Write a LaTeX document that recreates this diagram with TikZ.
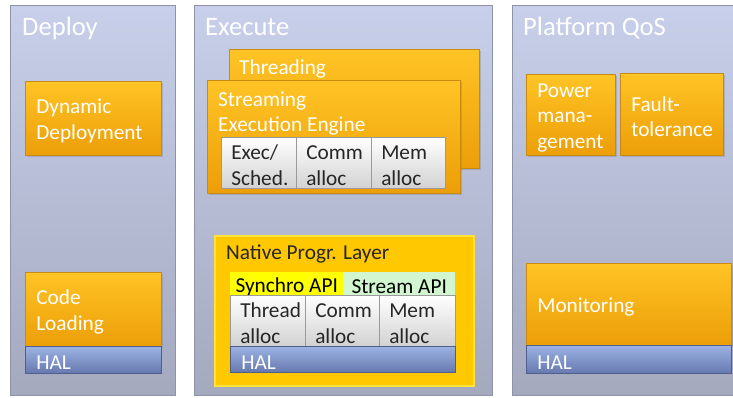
\documentclass[tikz,border=0pt]{standalone}
\usepackage{fontspec}
\setmainfont{Carlito}
\definecolor{panetop}{HTML}{C7CFEA}
\definecolor{panebot}{HTML}{A4A9BE}
\definecolor{paneedge}{HTML}{8E94A8}
\definecolor{ortop}{HTML}{FFC425}
\definecolor{orbot}{HTML}{EC9E08}
\definecolor{oredge}{HTML}{C98A14}
\definecolor{celltop}{HTML}{FFFFFF}
\definecolor{cellbot}{HTML}{D2D2D2}
\definecolor{celledge}{HTML}{9A9A9A}
\definecolor{haltop}{HTML}{9DB3E3}
\definecolor{halbot}{HTML}{6679B0}
\definecolor{haledge}{HTML}{4F5F8C}
\definecolor{nativefill}{HTML}{FFC800}
\definecolor{nativeedge}{HTML}{FFE23A}
\definecolor{synchro}{HTML}{FFFF00}
\definecolor{streamgreen}{HTML}{D2F7D0}
\definecolor{inktext}{HTML}{262626}
\usetikzlibrary{shadows}

\begin{document}
\begin{tikzpicture}[
  x=1pt, y=-1pt,
  pane/.style={rectangle, anchor=north west, draw=paneedge, line width=0.8pt, top color=panetop, bottom color=panebot},
  panetitle/.style={anchor=base west, inner sep=0pt, text=white, font=\fontsize{26.6}{30}\selectfont},
  blk/.style={rectangle, anchor=north west, inner ysep=0pt, inner xsep=11pt, align=left, text height=20pt, font=\fontsize{21.3}{25.5}\selectfont},
  obox/.style={blk, draw=oredge, line width=0.6pt, top color=ortop, bottom color=orbot, text=white, drop shadow={shadow xshift=1.5pt, shadow yshift=-1.5pt, opacity=0.35}},
  cell/.style={blk, inner xsep=10pt, draw=celledge, line width=0.5pt, top color=celltop, bottom color=cellbot, text=inktext},
  hal/.style={blk, draw=haledge, line width=0.5pt, top color=haltop, bottom color=halbot, text=white},
  lbl/.style={anchor=base west, inner sep=0pt, align=left, font=\fontsize{21.3}{25}\selectfont},
]
\useasboundingbox (0,0) rectangle (733,397);
\fill[white] (0,0) rectangle (733,397);

\node[pane, minimum width=165, minimum height=390] (deploy) at (10,5) {};
\node[pane, minimum width=298, minimum height=390] (execute) at (194,5) {};
\node[pane, minimum width=228, minimum height=390] (qos) at (512,5) {};
\node[panetitle] (deployT) at (22,35) {Deploy};
\node[panetitle] (executeT) at (205,35) {Execute};
\node[panetitle] (qosT) at (523,35) {Platform QoS};

\node[obox, minimum width=136, minimum height=74, text width=114] (dyndep) at (25,81) {Dynamic\\Deployment};
\node[obox, minimum width=136, minimum height=74, text width=114] (codeload) at (25,272) {Code\\Loading};
\node[hal, minimum width=136, minimum height=27, text width=114] (halA) at (25,346) {HAL};

\node[obox, minimum width=250, minimum height=119] (threading) at (229,49) {};
\node[lbl, text=white] (threadingT) at (239,74) {Threading};
\node[obox, minimum width=253, minimum height=113] (engine) at (207,80) {};
\node[lbl, text=white] (engineT) at (218,131) {Streaming\\Execution Engine};
\node[cell, minimum width=75, minimum height=51, text width=55] (execsched) at (221,137) {Exec/\\Sched.};
\node[cell, minimum width=75, minimum height=51, text width=55] (commA) at (296,137) {Comm\\alloc};
\node[cell, minimum width=74, minimum height=51, text width=54] (memA) at (371,137) {Mem\\alloc};

\node[rectangle, anchor=north west, draw=nativeedge, line width=1.5pt, fill=nativefill, minimum width=259, minimum height=150, drop shadow={shadow xshift=1.5pt, shadow yshift=-1.5pt, opacity=0.35}] (native) at (214,235) {};
\node[lbl, text=inktext] (nativeT) at (226,259) {Native Progr. Layer};
\node[blk, inner xsep=0pt, fill=synchro, text=black, minimum width=113, minimum height=23] (synchroapi) at (230,272) {Synchro API};
\node[blk, inner xsep=0pt, fill=streamgreen, text=black, minimum width=112, minimum height=23] (streamapi) at (343,272) {Stream API};
\node[cell, minimum width=75, minimum height=51, text width=55] (threadB) at (230,295) {Thread\\alloc};
\node[cell, minimum width=74, minimum height=51, text width=54] (commB) at (305,295) {Comm\\alloc};
\node[cell, minimum width=76, minimum height=51, text width=56] (memB) at (379,295) {Mem\\alloc};
\node[hal, minimum width=225, minimum height=26, text width=203] (halB) at (230,346) {HAL};

\node[obox, minimum width=89, minimum height=81, text width=67] (power) at (526,74) {Power\\mana-\\gement};
\node[obox, minimum width=103, minimum height=82, text width=81] (fault) at (620,73) {Fault-\\tolerance};
\node[obox, minimum width=205, minimum height=82, text width=183] (monitor) at (526,263) {Monitoring};
\node[hal, minimum width=205, minimum height=28, text width=183] (halC) at (526,345) {HAL};
\end{tikzpicture}
\end{document}
